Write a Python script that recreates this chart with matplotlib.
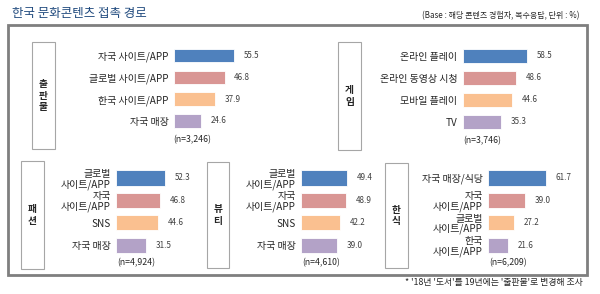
import matplotlib
matplotlib.use("Agg")
import matplotlib.pyplot as plt
from matplotlib.patches import Rectangle

plt.rcParams['font.family'] = ['Noto Sans CJK KR', 'DejaVu Sans']

# data
title = '한국 문화콘텐츠 접촉 경로'
base_note = '(Base : 해당 콘텐츠 경험자, 복수응답, 단위 : %)'
footnote = "* '18년 '도서'를 19년에는 '출판물'로 변경해 조사"

pub_labels = ['자국 사이트/APP', '글로벌 사이트/APP', '한국 사이트/APP', '자국 매장']
pub_values = [55.5, 46.8, 37.9, 24.6]
game_labels = ['온라인 플레이', '온라인 동영상 시청', '모바일 플레이', 'TV']
game_values = [58.5, 48.6, 44.6, 35.3]
fashion_labels = ['글로벌\n사이트/APP', '자국\n사이트/APP', 'SNS', '자국 매장']
fashion_values = [52.3, 46.8, 44.6, 31.5]
beauty_labels = ['글로벌\n사이트/APP', '자국\n사이트/APP', 'SNS', '자국 매장']
beauty_values = [49.4, 48.9, 42.2, 39.0]
food_labels = ['자국 매장/식당', '자국\n사이트/APP', '글로벌\n사이트/APP', '한국\n사이트/APP']
food_values = [61.7, 39.0, 27.2, 21.6]

bar_colors = ['#4F81BD', '#D99694', '#FAC090', '#B3A2C7']

W, H = 600, 294
fig = plt.figure(figsize=(W / 100, H / 100), dpi=100)

# background axes in pixel coords for frames and notes
bg = fig.add_axes([0, 0, 1, 1])
bg.set_xlim(0, W)
bg.set_ylim(H, 0)
bg.axis('off')

bg.text(12, 14, title, fontsize=9, color='#1F497D', va='center', ha='left')
bg.text(580, 16, base_note, fontsize=5.8, color='#262626', va='center', ha='right')
bg.text(583, 283, footnote, fontsize=6.4, color='#262626', va='center', ha='right')
bg.add_patch(Rectangle((8, 25), 579, 250, fill=False, edgecolor='#7F7F7F', linewidth=2))


def panel(name, box, labels, values, x0, scale, y0, step, bar_h, n_text, n_pos):
    # side label box
    bx, by, bw, bh = box
    bg.add_patch(Rectangle((bx, by), bw, bh, fill=False, edgecolor='#A6A6A6', linewidth=0.8))
    bg.text(bx + bw / 2, by + bh / 2, '\n'.join(name), fontsize=7, fontweight='bold',
            ha='center', va='center', linespacing=1.15, color='#262626')
    # bar axes
    width = 100 * scale
    top = y0 - step / 2
    ax = fig.add_axes([x0 / W, 1 - (top + 4 * step) / H, width / W, 4 * step / H])
    ax.patch.set_alpha(0)
    pos = list(range(len(values)))
    bars = ax.barh(pos, values, height=bar_h, color=bar_colors, edgecolor='white', linewidth=0.6)
    ax.set_xlim(0, 100)
    ax.set_ylim(3.5, -0.5)
    ax.set_yticks(pos)
    ax.set_yticklabels(labels, fontsize=7.2, color='#262626', linespacing=1.0)
    ax.tick_params(axis='y', length=0, pad=4)
    ax.set_xticks([])
    for s in ax.spines.values():
        s.set_visible(False)
    ax.bar_label(bars, fmt='%.1f', padding=7, fontsize=5.8, color='#404040')
    bg.text(n_pos[0], n_pos[1], n_text, fontsize=6.3, color='#262626', ha='left', va='center')


panel('출판물', (32, 42, 23, 107), pub_labels, pub_values, 174, 1.08, 55.5, 21.8, 0.62,
      '(n=3,246)', (173, 140))
panel('게임', (338, 42, 23, 108), game_labels, game_values, 463, 1.09, 56, 22, 0.62,
      '(n=3,746)', (463, 141))
panel('패션', (21, 161, 23, 108), fashion_labels, fashion_values, 116, 0.94, 178, 22.4, 0.67,
      '(n=4,924)', (117, 263))
panel('뷰티', (207, 162, 22, 106), beauty_labels, beauty_values, 301, 0.93, 178, 22.4, 0.67,
      '(n=4,610)', (302, 263))
panel('한식', (385, 163, 23, 105), food_labels, food_values, 488, 0.94, 178, 22.4, 0.67,
      '(n=6,209)', (489, 263))

fig.savefig('out.png', dpi=100)
